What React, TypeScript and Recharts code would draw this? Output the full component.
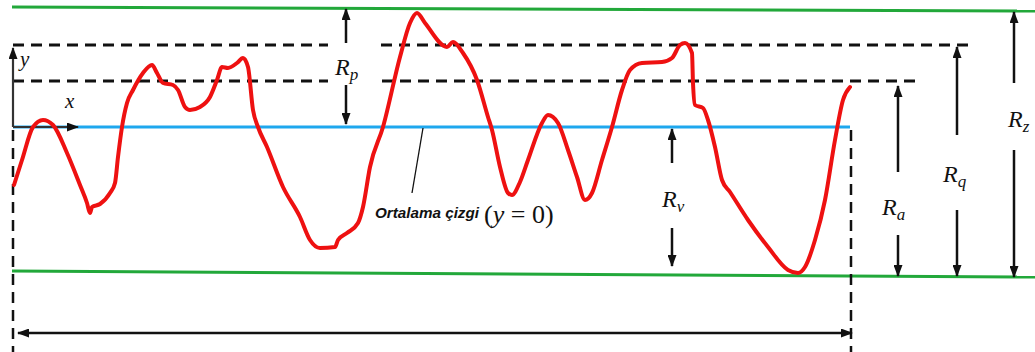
import React from 'react';
import { ComposedChart, Line, XAxis, YAxis, ReferenceLine, ReferenceDot } from 'recharts';

// Surface profile (x along sampling length, y height relative to the mean line)
const profileX = [14, 22, 33, 43, 53, 67, 80, 87, 90, 92, 100, 110, 115, 118, 122, 127, 133, 143, 152, 157, 163, 173, 178, 185, 190, 200, 210, 217, 222, 228, 237, 243, 248, 253, 258, 267, 283, 300, 310, 320, 335, 338, 347, 358, 363, 370, 383, 400, 410, 417, 425, 447, 453, 463, 477, 488, 492, 500, 508, 512, 520, 528, 542, 548, 558, 568, 577, 585, 592, 602, 612, 622, 630, 642, 662, 672, 680, 685, 692, 693, 695, 703, 708, 715, 722, 730, 748, 768, 788, 798, 805, 815, 825, 835, 843, 850];
const profileY = [-58, -33, 0, 7, 2, -26, -58, -76, -86, -80, -77, -66, -56, -30, 0, 24, 37, 54, 62, 54, 44, 42, 37, 20, 17, 20, 30, 47, 60, 59, 64, 69, 60, 17, 0, -20, -60, -90, -113, -121, -120, -113, -106, -96, -80, -40, 0, 70, 104, 114, 104, 80, 85, 74, 47, 10, -3, -40, -66, -68, -55, -33, 4, 12, 4, -23, -50, -73, -66, -33, 0, 37, 57, 64, 65, 69, 82, 84, 74, 44, 22, 19, 7, -20, -53, -65, -93, -120, -143, -146, -140, -113, -73, -13, 27, 40];

// Levels
const meanLevel = 0;
const peakLevelLeftRight = [120, 116];
const valleyLevelLeftRight = [-144, -150];
const rqLevel = 82;
const raLevel = 46;

// Labels
const rLabels = [
  { name: 'R', sub: 'p', x: 335, y: 52 },
  { name: 'R', sub: 'v', x: 662, y: -80 },
  { name: 'R', sub: 'a', x: 882, y: -88 },
  { name: 'R', sub: 'q', x: 943, y: -55 },
  { name: 'R', sub: 'z', x: 1008, y: 0 },
];

const profile = profileX.map((x, i) => ({ x, y: profileY[i] }));

const BLACK = '#111';
const seg = (x1: number, y1: number, x2: number, y2: number) => [{ x: x1, y: y1 }, { x: x2, y: y2 }];

const arrowShape = (start: boolean, end: boolean, width = 2.5, color = BLACK) => (p: any) => (
  <line
    x1={p.x1}
    y1={p.y1}
    x2={p.x2}
    y2={p.y2}
    stroke={color}
    strokeWidth={width}
    markerStart={start ? 'url(#ahs)' : undefined}
    markerEnd={end ? 'url(#ah)' : undefined}
  />
);

export default function App() {
  const MATH = "'Liberation Serif', 'DejaVu Serif', serif";
  return (
    <div style={{ position: 'absolute', left: 0, top: 0, width: 1035, height: 352, background: '#fff' }}>
      <ComposedChart width={1035} height={352} margin={{ top: 0, right: 0, bottom: 0, left: 0 }} data={profile}>
        <defs>
          <marker id="ah" viewBox="0 0 12 9" refX="11" refY="4.5" markerWidth="12" markerHeight="9" markerUnits="userSpaceOnUse" orient="auto">
            <path d="M0,0 L12,4.5 L0,9 z" fill={BLACK} />
          </marker>
          <marker id="ahs" viewBox="0 0 12 9" refX="1" refY="4.5" markerWidth="12" markerHeight="9" markerUnits="userSpaceOnUse" orient="auto">
            <path d="M12,0 L0,4.5 L12,9 z" fill={BLACK} />
          </marker>
        </defs>
        <XAxis type="number" dataKey="x" domain={[0, 1035]} hide allowDataOverflow />
        <YAxis type="number" domain={[-225, 127]} hide allowDataOverflow />

        {/* green peak / valley lines */}
        <ReferenceLine segment={seg(12, peakLevelLeftRight[0], 1035, peakLevelLeftRight[1])} stroke="#22a83a" strokeWidth={3} />
        <ReferenceLine segment={seg(12, valleyLevelLeftRight[0], 1035, valleyLevelLeftRight[1])} stroke="#22a83a" strokeWidth={3} />

        {/* dashed Rq and Ra levels */}
        <ReferenceLine segment={seg(13, rqLevel, 328, rqLevel)} stroke={BLACK} strokeWidth={3} strokeDasharray="11 7" />
        <ReferenceLine segment={seg(381, rqLevel, 975, rqLevel)} stroke={BLACK} strokeWidth={3} strokeDasharray="11 7" />
        <ReferenceLine segment={seg(13, raLevel, 328, raLevel)} stroke={BLACK} strokeWidth={3} strokeDasharray="11 7" />
        <ReferenceLine segment={seg(382, raLevel, 917, raLevel)} stroke={BLACK} strokeWidth={3} strokeDasharray="11 7" />

        {/* vertical sampling length limits */}
        <ReferenceLine segment={seg(13, -3, 13, -225)} stroke={BLACK} strokeWidth={2.5} strokeDasharray="11 7" />
        <ReferenceLine segment={seg(851, -3, 851, -225)} stroke={BLACK} strokeWidth={2.5} strokeDasharray="11 7" />

        {/* mean line */}
        <ReferenceLine segment={seg(13, meanLevel, 850, meanLevel)} stroke="#1ea7ee" strokeWidth={3} />

        {/* axes arrows */}
        <ReferenceLine segment={seg(13, meanLevel, 78, meanLevel)} shape={arrowShape(false, true, 2.2, '#333')} />
        <ReferenceLine segment={seg(13, meanLevel, 13, 79)} shape={arrowShape(false, true, 2.2, '#333')} />

        {/* leader line */}
        <ReferenceLine segment={seg(423, -1, 412, -66)} stroke={BLACK} strokeWidth={1.3} />

        {/* length arrow */}
        <ReferenceLine segment={seg(18, -206, 852, -206)} shape={arrowShape(true, true, 2.5)} />

        {/* R arrows */}
        <ReferenceLine segment={seg(346, 84, 346, 118)} shape={arrowShape(false, true)} />
        <ReferenceLine segment={seg(346, 42, 346, 3)} shape={arrowShape(false, true)} />
        <ReferenceLine segment={seg(672, -36, 672, -2)} shape={arrowShape(false, true)} />
        <ReferenceLine segment={seg(672, -101, 672, -139)} shape={arrowShape(false, true)} />
        <ReferenceLine segment={seg(898, -45, 898, 41)} shape={arrowShape(false, true)} />
        <ReferenceLine segment={seg(898, -108, 898, -149)} shape={arrowShape(false, true)} />
        <ReferenceLine segment={seg(957, -8, 957, 80)} shape={arrowShape(false, true)} />
        <ReferenceLine segment={seg(957, -83, 957, -149)} shape={arrowShape(false, true)} />
        <ReferenceLine segment={seg(1014, 44, 1014, 115)} shape={arrowShape(false, true)} />
        <ReferenceLine segment={seg(1014, -23, 1014, -150)} shape={arrowShape(false, true)} />

        {/* profile */}
        <Line type="monotone" dataKey="y" stroke="#ee1111" strokeWidth={4} strokeLinecap="round" strokeLinejoin="round" dot={false} activeDot={false} isAnimationActive={false} />

        {/* labels */}
        {rLabels.map((l) => (
          <ReferenceDot
            key={l.sub}
            x={l.x}
            y={l.y}
            r={0}
            shape={(p: any) => (
              <text x={p.cx} y={p.cy} fontFamily={MATH} fontStyle="italic" fontSize={24} fill={BLACK}>
                {l.name}
                <tspan fontSize={17} dy={5}>{l.sub}</tspan>
              </text>
            )}
          />
        ))}
        <ReferenceDot x={20} y={61} r={0} shape={(p: any) => (
          <text x={p.cx} y={p.cy} fontFamily={MATH} fontStyle="italic" fontSize={21} fill={BLACK}>y</text>
        )} />
        <ReferenceDot x={65} y={19} r={0} shape={(p: any) => (
          <text x={p.cx} y={p.cy} fontFamily={MATH} fontStyle="italic" fontSize={21} fill={BLACK}>x</text>
        )} />
        <ReferenceDot x={375} y={-91} r={0} shape={(p: any) => (
          <text x={p.cx} y={p.cy} fontFamily="'Liberation Sans', Arial, sans-serif" fontStyle="italic" fontWeight="bold" fontSize={15} textLength={104} lengthAdjust="spacingAndGlyphs" fill={BLACK}>Ortalama çizgi</text>
        )} />
        <ReferenceDot x={484} y={-96} r={0} shape={(p: any) => (
          <text x={p.cx} y={p.cy} fontFamily={MATH} fontSize={26} fill={BLACK}>
            (<tspan fontStyle="italic">y</tspan> = 0)
          </text>
        )} />
      </ComposedChart>
    </div>
  );
}
